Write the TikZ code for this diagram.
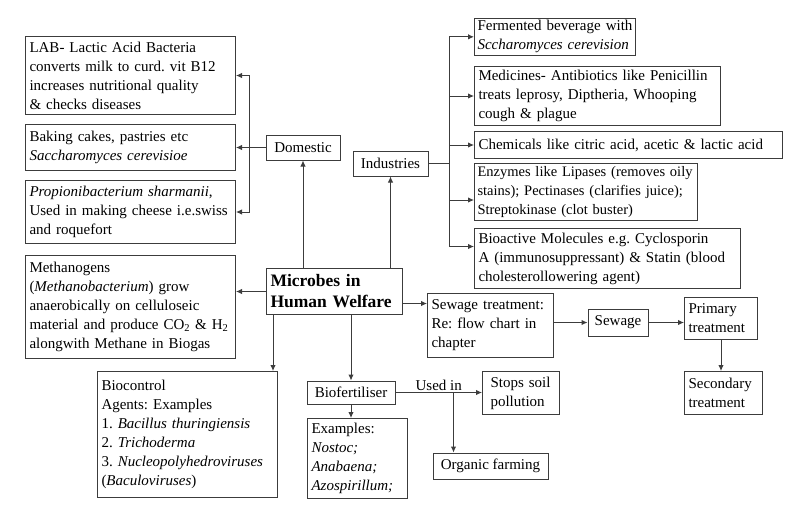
\documentclass[tikz,border=0pt]{standalone}
\usepackage{fontspec}
\setmainfont{Liberation Serif}
\usepackage{xcolor}
\usetikzlibrary{positioning, calc, arrows.meta}
\definecolor{linegray}{RGB}{60,60,60}
\frenchspacing

\begin{document}
\begin{tikzpicture}[
        % --- general setup ---
        x=1pt, y=-1pt,
        % text boxes
        infobox/.style={
            draw=linegray, line width=1pt,
            align=left, anchor=north west,
            inner xsep=4pt, inner ysep=2pt,
            font=\fontsize{15}{19}\selectfont
        },
        % one-word boxes
        tagbox/.style={
            draw=linegray, line width=1pt,
            anchor=center, inner sep=2pt,
            font=\fontsize{15}{19}\selectfont
        },
        % connectors
        conn/.style={draw=linegray, line width=1pt},
        arr/.style={conn, -{Latex[length=6pt,width=5.5pt]}}
    ]
        \useasboundingbox (0,0) rectangle (785,523);

        % ==========================================
        % CENTRE
        % ==========================================
        \node[infobox, text width=128pt, minimum height=46pt,
              font=\bfseries\fontsize{17.5}{21}\selectfont] (micro) at (266,268)
            {Microbes in\\Human Welfare};

        % ==========================================
        % DOMESTIC (left top)
        % ==========================================
        \node[tagbox, minimum width=74pt, minimum height=25pt] (dom) at (303,147.5) {Domestic};

        \node[infobox, text width=202pt, minimum height=78pt] (lab) at (25,36) {
            LAB- Lactic Acid Bacteria\\
            converts milk to curd. vit B12\\
            increases nutritional quality\\
            \& checks diseases
        };
        \node[infobox, text width=202pt, minimum height=46pt] (bake) at (25,124) {
            Baking cakes, pastries etc\\
            \textit{Saccharomyces cerevisioe}
        };
        \node[infobox, text width=202pt, minimum height=63pt] (prop) at (25,180) {
            \textit{Propionibacterium sharmanii},\\
            Used in making cheese i.e.swiss\\
            and roquefort
        };

        \coordinate (dombus) at ($(dom.west)+(-16,0)$);
        \draw[arr] (micro.north -| dom.south) -- (dom.south);
        \draw[arr] (dom.west) -- (bake.east);
        \draw[arr] (dombus) |- (lab.east);
        \draw[arr] (dombus) |- (prop.east);

        % ==========================================
        % INDUSTRIES (right top)
        % ==========================================
        \node[tagbox, minimum width=75pt, minimum height=25pt] (ind) at (390.5,163.5) {Industries};

        \node[infobox, text width=155pt, inner xsep=3pt, minimum height=35pt] (ferm) at (474,18) {
            Fermented beverage with\\
            \textit{Sccharomyces cerevision}
        };
        \node[infobox, text width=238pt, minimum height=59pt] (medi) at (474,66) {
            Medicines- Antibiotics like Penicillin\\
            treats leprosy, Diptheria, Whooping\\
            cough \& plague
        };
        \node[infobox, text width=300pt, minimum height=27pt] (chem) at (474,131) {
            Chemicals like citric acid, acetic \& lactic acid
        };
        \node[infobox, text width=217pt, inner xsep=3pt, minimum height=57pt,
              font=\fontsize{14.5}{19}\selectfont] (enzy) at (474,163) {
            Enzymes like Lipases (removes oily\\
            stains); Pectinases (clarifies juice);\\
            Streptokinase (clot buster)
        };
        \node[infobox, text width=258pt, minimum height=60pt] (bioa) at (474,228) {
            Bioactive Molecules e.g. Cyclosporin\\
            A (immunosuppressant) \& Statin (blood\\
            cholesterollowering agent)
        };

        \coordinate (indbus) at ($(ind.east)+(21,0)$);
        \draw[arr] (micro.north -| ind.south) -- (ind.south);
        \draw[conn] (ind.east) -- (indbus);
        \draw[arr] (indbus) |- (ferm.west);
        \draw[arr] (indbus) |- (medi.west);
        \draw[arr] (indbus) |- (chem.west);
        \draw[arr] (indbus) |- ($(enzy.west)+(0,8)$);
        \draw[arr] (indbus) |- ($(bioa.west)+(0,-12)$);

        % ==========================================
        % METHANOGENS, BIOCONTROL
        % ==========================================
        \node[infobox, text width=202pt, minimum height=103pt] (meth) at (25,255) {
            Methanogens\\
            (\textit{Methanobacterium}) grow\\
            anaerobically on celluloseic\\
            material and produce CO\textsubscript{2} \& H\textsubscript{2}\\
            alongwith Methane in Biogas
        };
        \draw[arr] (micro.west) -- (micro.west -| meth.east);

        \node[infobox, text width=172pt, minimum height=126pt] (bioc) at (97,371) {
            Biocontrol\\
            Agents: Examples\\
            1. \textit{Bacillus thuringiensis}\\
            2. \textit{Trichoderma}\\
            3. \textit{Nucleopolyhedroviruses}\\
            (\textit{Baculoviruses})
        };
        \coordinate (mbl) at ($(micro.south west)+(7,0)$);
        \draw[arr] (mbl) -- (mbl |- bioc.north);

        % ==========================================
        % BIOFERTILISER
        % ==========================================
        \node[tagbox, minimum width=88pt, minimum height=23pt] (biof) at (351,392.5) {Biofertiliser};
        \node[infobox, text width=92pt, minimum height=80pt] (exam) at (307,418) {
            Examples:\\
            \textit{Nostoc;}\\
            \textit{Anabaena;}\\
            \textit{Azospirillum;}
        };
        \node[infobox, text width=61pt, inner xsep=8pt, minimum height=43pt] (stop) at (482,371) {
            Stops soil\\
            pollution
        };
        \node[tagbox, minimum width=115pt, minimum height=26pt] (org) at (490.5,466) {Organic farming};

        \draw[arr] (micro.south -| biof.north) -- (biof.north);
        \draw[arr] (biof.south) -- (biof.south |- exam.north);
        \draw[arr] (biof.east) -- (biof.east -| stop.west)
            node[midway, above, inner sep=1pt, font=\fontsize{15}{19}\selectfont] (usedin) {Used in};
        \coordinate (usebr) at ($(biof.east)+(58,0)$);
        \draw[arr] (usebr) -- (usebr |- org.north);

        % ==========================================
        % SEWAGE TREATMENT
        % ==========================================
        \node[infobox, text width=118pt, minimum height=64pt] (sewt) at (427,293) {
            Sewage treatment:\\
            Re: flow chart in\\
            chapter
        };
        \node[tagbox, minimum width=60pt, minimum height=27pt] (sew) at (618,322.5) {Sewage};
        \node[infobox, text width=65pt, minimum height=42pt] (prim) at (684,297) {Primary\\treatment};
        \node[infobox, text width=70pt, minimum height=43pt] (seco) at (684,371) {Secondary\\treatment};

        \coordinate (mre) at ($(micro.east)+(0,12)$);
        \draw[arr] (mre) -- (mre -| sewt.west);
        \draw[arr] (sew.west -| sewt.east) -- (sew.west);
        \draw[arr] (sew.east) -- (sew.east -| prim.west);
        \draw[arr] (prim.south) -- (prim.south |- seco.north);

    \end{tikzpicture}
\end{document}
